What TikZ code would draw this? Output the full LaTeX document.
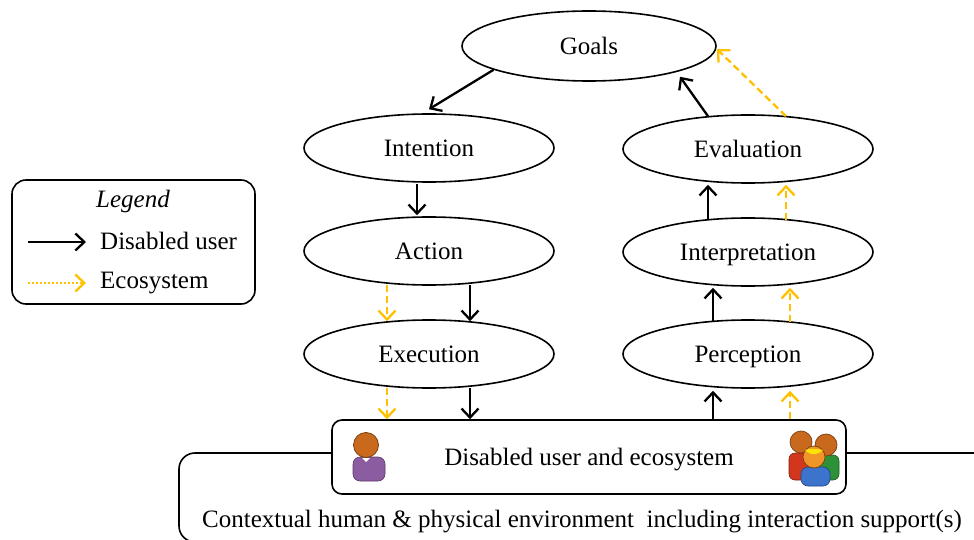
\documentclass[tikz,border=0pt]{standalone}
\usepackage{fontspec}
\setmainfont{Liberation Serif}
\usetikzlibrary{arrows.meta,shapes.geometric}
\definecolor{eco}{RGB}{255,192,0}
\definecolor{pbody}{RGB}{140,92,160}
\definecolor{hd}{RGB}{200,105,30}
\definecolor{rbody}{RGB}{210,55,30}
\definecolor{gbody}{RGB}{45,145,55}
\definecolor{bbody}{RGB}{60,115,205}
\definecolor{fhd}{RGB}{240,150,40}
\begin{document}
\begin{tikzpicture}[x=1pt,y=-1pt,
  font=\fontsize{25}{30}\selectfont,
  every node/.style={text depth=0pt},
  stage/.style={ellipse,draw,line width=1.6pt,minimum width=250pt,minimum height=68pt,inner sep=0pt},
  usr/.style={line width=2.3pt,-{Straight Barb[length=9pt,width=17pt]}},
  ecoarr/.style={eco,line width=2.3pt,dash pattern=on 7pt off 4pt,-{Straight Barb[length=9pt,width=17pt]}},
  ecodot/.style={eco,line width=2.3pt,dash pattern=on 2pt off 2pt,-{Straight Barb[length=9pt,width=17pt]}},
  framebox/.style={draw,line width=1.6pt},
  ]
\useasboundingbox (0,0) rectangle (974,540);

% outer environment frame
\draw[framebox,rounded corners=16pt] (1010,453) -- (179,453) -- (179,542) -- (1010,542);
\node (ctx) at (582,519) {Contextual human \& physical environment\ \ including interaction support(s)};

% stages
\node[stage,minimum width=254pt,minimum height=70pt] (goals) at (589,46) {Goals};
\node[stage] (intention) at (429,148) {Intention};
\node[stage] (action) at (429,251) {Action};
\node[stage] (execution) at (429,354) {Execution};
\node[stage] (evaluation) at (748,149) {Evaluation};
\node[stage] (interp) at (748,252) {Interpretation};
\node[stage] (perception) at (748,354) {Perception};

% system box
\node[framebox,fill=white,rounded corners=10pt,minimum width=514pt,minimum height=74pt] (sys) at (589,457) {Disabled user and ecosystem};

% user icon
\filldraw[draw=pbody!65!black,fill=pbody,line width=0.6pt,rounded corners=7pt] (353,457) rectangle (385,481);
\filldraw[draw=hd!60!black,fill=hd,line width=0.8pt] (366,445) circle[radius=12.5];
\fill[white] (362,458) -- (370,458) -- (366,462) -- cycle;

% group icon
\filldraw[draw=rbody!60!black,fill=rbody,line width=0.6pt,rounded corners=6pt] (789,453) rectangle (810,480);
\filldraw[draw=hd!60!black,fill=hd,line width=0.7pt] (801,442) circle[radius=11];
\filldraw[draw=gbody!60!black,fill=gbody,line width=0.6pt,rounded corners=6pt] (818,455) rectangle (839,480);
\filldraw[draw=hd!60!black,fill=hd,line width=0.7pt] (826,445) circle[radius=11];
\filldraw[draw=bbody!60!black,fill=bbody,line width=0.6pt,rounded corners=7pt] (801,467) rectangle (830,486);
\filldraw[draw=hd!60!black,fill=fhd,line width=0.7pt] (814,457) circle[radius=11];
\fill[yellow!85!orange] (805,450) arc[start angle=140,end angle=40,radius=11.7] .. controls (818,449) and (810,448) .. cycle;

% legend
\node[framebox,rounded corners=14pt,minimum width=243pt,minimum height=124pt] (legend) at (133.5,242) {};
\node[font=\fontsize{25}{30}\selectfont\itshape] (legtitle) at (133,199) {Legend};
\node[anchor=west,inner sep=0pt] (leguser) at (100,241) {Disabled user};
\node[anchor=west,inner sep=0pt] (legeco) at (100,280) {Ecosystem};
\coordinate (lu) at (28,242);
\coordinate (le) at (28,283);
\draw[usr] (lu) -- ([xshift=-14pt]leguser.west |- lu);
\draw[ecodot] (le) -- ([xshift=-14pt]legeco.west |- le);

% disabled user path
\draw[usr] (goals.194) -- ([yshift=4pt]intention.north);
\draw[usr] ([xshift=-12pt,yshift=-1pt]intention.south) -- ([xshift=-12pt,yshift=1pt]action.north);
\draw[usr] ([xshift=41pt,yshift=1pt]action.south) -- ([xshift=41pt,yshift=-2pt]execution.north);
\draw[usr] ([xshift=41pt,yshift=1pt]execution.south) -- ([xshift=-119pt]sys.north);
\draw[usr] ([xshift=124pt]sys.north) -- ([xshift=-35pt,yshift=-2pt]perception.south);
\draw[usr] ([xshift=-35pt,yshift=-3pt]perception.north) -- ([xshift=-35pt,yshift=-1pt]interp.south);
\draw[usr] ([xshift=-40pt,yshift=-3pt]interp.north) -- ([xshift=-40pt,yshift=-1pt]evaluation.south);
\draw[usr] ([xshift=-40pt,yshift=-2pt]evaluation.north) -- ([xshift=91pt,yshift=5pt]goals.south);

% ecosystem path
\draw[ecoarr] ([xshift=-42pt,yshift=1pt]action.south) -- ([xshift=-42pt,yshift=-2pt]execution.north);
\draw[ecoarr] ([xshift=-42pt,yshift=1pt]execution.south) -- ([xshift=-202pt]sys.north);
\draw[ecoarr] ([xshift=201pt]sys.north) -- ([xshift=42pt,yshift=-2pt]perception.south);
\draw[ecoarr] ([xshift=42pt,yshift=-3pt]perception.north) -- ([xshift=42pt,yshift=-1pt]interp.south);
\draw[ecoarr] ([xshift=38pt,yshift=-3pt]interp.north) -- ([xshift=38pt,yshift=-1pt]evaluation.south);
\draw[ecoarr] ([xshift=38pt,yshift=-2pt]evaluation.north) -- ([yshift=-3pt]goals.east);
\end{tikzpicture}
\end{document}
